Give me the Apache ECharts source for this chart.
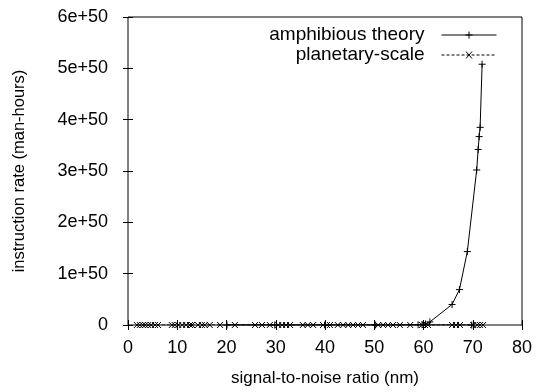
<!DOCTYPE html>
<html>
<head>
<meta charset="utf-8">
<script src="https://cdn.jsdelivr.net/npm/echarts@6/dist/echarts.min.js"></script>
<style>
  html, body { margin: 0; padding: 0; background: #fff; }
  #chart { width: 536px; height: 392px; }
</style>
</head>
<body>
<div id="chart"></div>
<script>
// series names
var seriesNames = ['amphibious theory', 'planetary-scale'];

// amphibious theory (gnuplot draws in data order, so keep it as read)
var amphX = [69.8, 20.1, 29.8, 40.0, 50.2, 58.9, 59.7, 60.4, 61.3, 65.8, 67.3, 68.9, 70.8, 71.1, 71.3, 71.5, 71.9];
var amphY = [0, 0, 0, 0, 0, 0.005e50, 0.01e50, 0.02e50, 0.06e50, 0.40e50, 0.69e50, 1.43e50, 3.02e50, 3.42e50, 3.67e50, 3.85e50, 5.08e50];

// planetary-scale (all close to zero)
var planX = [1.8, 2.4, 3.0, 3.5, 4.1, 4.7, 5.5, 6.1, 8.9, 9.5, 10.2, 11.0, 11.8, 12.6, 13.0, 14.2, 15.0, 15.6,
             16.6, 18.7, 21.7, 25.8, 27.2, 28.8, 30.5, 31.3, 32.1, 32.9, 35.5, 36.5, 37.6, 39.6, 40.4, 41.0,
             42.6, 43.7, 44.7, 45.7, 46.7, 47.7, 50.8, 51.8, 52.8, 53.8, 55.2, 57.3, 59.7, 60.3, 60.9,
             65.8, 66.6, 67.4, 70.1, 70.9, 71.5, 72.1];
var planY = [0, 0, 0, 0, 0, 0, 0, 0, 0, 0, 0, 0, 0, 0, 0, 0, 0, 0,
             0, 0, 0, 0, 0, 0, 0, 0, 0, 0, 0, 0, 0, 0, 0, 0,
             0, 0, 0, 0, 0, 0, 0, 0, 0, 0, 0, 0, 0, 0, 0,
             0, 0, 0, 0, 0, 0, 0];

// axis ticks
var xTicks = { min: 0, max: 80, step: 10 };
var yTicks = { min: 0, max: 6e50, step: 1e50 };

function pairs(xs, ys) {
  var out = [];
  for (var i = 0; i < xs.length; i++) { out.push([xs[i], ys[i]]); }
  return out;
}

var FONT = 'Liberation Sans, Arial, Helvetica, sans-serif';
var plusSym = 'path://M5,0L5,10M0,5L10,5';
var crossSym = 'path://M0,0L10,10M10,0L0,10';

// gnuplot style key samples: line with the point symbol in the middle
var keySolid = 'path://M0,3.5L55,3.5M27.5,0L27.5,7M24,3.5L31,3.5';
var keyDash = 'path://';
for (var d = 0; d < 55; d += 5) {
  keyDash += 'M' + d + ',3.5L' + Math.min(d + 3, 55) + ',3.5';
}
keyDash += 'M24.5,0L30.5,7M30.5,0L24.5,7M55,3.5L55,3.5';

var chart = echarts.init(document.getElementById('chart'), null, { renderer: 'canvas' });

var yFmt = function (v) {
  if (v === 0) return '0';
  return Math.round(v / 1e50) + 'e+50';
};

var tick = { inside: true, length: 5, lineStyle: { color: '#000' } };
var keyStyle = { color: 'none', borderColor: '#000', borderWidth: 1 };

var option = {
  backgroundColor: '#fff',
  animation: false,
  textStyle: { fontFamily: FONT, color: '#000' },
  grid: {
    left: 128, right: 14, top: 17, bottom: 64,
    show: true, borderColor: '#000', borderWidth: 1, backgroundColor: 'transparent'
  },
  legend: {
    orient: 'vertical',
    right: 32, top: 20,
    align: 'right',
    itemWidth: 55, itemHeight: 7, itemGap: 0,
    textStyle: { fontFamily: FONT, fontSize: 19, color: '#000', lineHeight: 20, padding: [0, 12, 0, 0] },
    data: [
      { name: seriesNames[0], icon: keySolid, itemStyle: keyStyle },
      { name: seriesNames[1], icon: keyDash, itemStyle: keyStyle }
    ]
  },
  xAxis: [{
    type: 'value',
    min: xTicks.min, max: xTicks.max, interval: xTicks.step,
    name: 'signal-to-noise ratio (nm)',
    nameLocation: 'middle', nameGap: 45,
    nameTextStyle: { fontFamily: FONT, fontSize: 17, color: '#000' },
    axisLine: { show: false },
    axisTick: tick,
    axisLabel: { fontFamily: FONT, fontSize: 18, color: '#000', margin: 14 },
    splitLine: { show: false }
  }, {
    type: 'value', position: 'top',
    min: xTicks.min, max: xTicks.max, interval: xTicks.step,
    axisLine: { show: false },
    axisTick: tick,
    axisLabel: { show: false },
    splitLine: { show: false }
  }],
  yAxis: [{
    type: 'value',
    min: yTicks.min, max: yTicks.max, interval: yTicks.step,
    name: 'instruction rate (man-hours)',
    nameLocation: 'middle', nameGap: 100, nameRotate: 90,
    nameTextStyle: { fontFamily: FONT, fontSize: 16.5, color: '#000' },
    axisLine: { show: false },
    axisTick: tick,
    axisLabel: { fontFamily: FONT, fontSize: 18, color: '#000', margin: 20, formatter: yFmt },
    splitLine: { show: false }
  }, {
    type: 'value', position: 'right',
    min: yTicks.min, max: yTicks.max, interval: yTicks.step,
    axisLine: { show: false },
    axisTick: tick,
    axisLabel: { show: false },
    splitLine: { show: false }
  }],
  series: [{
    name: seriesNames[0],
    type: 'line',
    data: pairs(amphX, amphY),
    symbol: plusSym, symbolSize: 7,
    showAllSymbol: true,
    itemStyle: { color: '#000', borderColor: '#000', borderWidth: 1 },
    lineStyle: { color: '#000', width: 1 },
    z: 3
  }, {
    name: seriesNames[1],
    type: 'line',
    data: pairs(planX, planY),
    symbol: crossSym, symbolSize: 6,
    showAllSymbol: true,
    itemStyle: { color: '#000', borderColor: '#000', borderWidth: 1 },
    lineStyle: { color: '#000', width: 1, type: [3, 2] },
    z: 2
  }]
};

chart.setOption(option);
</script>
</body>
</html>
